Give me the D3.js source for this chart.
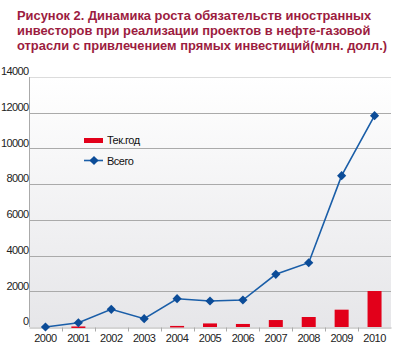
<!DOCTYPE html>
<html><head><meta charset="utf-8">
<script src="https://cdn.jsdelivr.net/npm/d3@7"></script>
<style>body{margin:0;background:#fff}svg{display:block}</style>
</head><body>
<script>
const years = ["2000","2001","2002","2003","2004","2005","2006","2007","2008","2009","2010"];
const currentYear = [0, 30, 0, 0, 60, 200, 170, 390, 560, 970, 2015];
const total = [0, 240, 990, 465, 1585, 1455, 1510, 2950, 3600, 8475, 11835];
const yTicks = [0, 2000, 4000, 6000, 8000, 10000, 12000, 14000];
const titleLines = ["Рисунок 2. Динамика роста обязательств иностранных",
  "инвесторов при реализации проектов в нефте-газовой",
  "отрасли с привлечением прямых инвестиций(млн. долл.)"];
const legendLabels = ["Тек.год", "Всего"];

const W = 400, H = 350;
const svg = d3.select("body").append("svg").attr("width", W).attr("height", H);
const defs = svg.append("defs");
const grad = defs.append("linearGradient").attr("id","bg").attr("x1",0).attr("y1",0).attr("x2",0).attr("y2",1);
grad.append("stop").attr("offset","0%").attr("stop-color","#ffffff");
grad.append("stop").attr("offset","100%").attr("stop-color","#e6e6e9");

const x = d3.scaleBand().domain(years).range([29, 391]).padding(0);
const y = d3.scaleLinear().domain([0, 14000]).range([327, 77]);

// title
svg.append("g").selectAll("text").data(titleLines).join("text")
  .attr("x", 17).attr("y", (d,i) => 20 + i*15)
  .attr("font-family", "Liberation Sans, Arial, sans-serif")
  .attr("font-weight", "bold").attr("font-size", 12.9)
  .attr("fill", "#9c1c40").text(d => d);

// plot background
svg.append("rect").attr("x", 29).attr("y", y(14000)).attr("width", 362).attr("height", y(0)-y(14000)).attr("fill","url(#bg)");

// gridlines
svg.append("g").selectAll("line").data(yTicks.filter(t => t > 0)).join("line")
  .attr("x1", 29).attr("x2", 391).attr("y1", d => Math.round(y(d))+0.5).attr("y2", d => Math.round(y(d))+0.5)
  .attr("stroke", d => d === 14000 ? "#dcdcdc" : "#aaaaaa").attr("stroke-width", 1);

// y axis
const yAxis = d3.axisLeft(y).tickValues(yTicks).tickSize(0).tickPadding(1).tickFormat(d3.format("d"));
const gy = svg.append("g").attr("transform","translate(29.5,0)").call(yAxis);
gy.select(".domain").attr("stroke","#aaaaaa").attr("d", `M0,${y(14000)}V${y(0)}`);
gy.selectAll("text").attr("font-family","Liberation Sans, Arial, sans-serif").attr("font-size",11)
  .attr("fill","#222").attr("letter-spacing","-0.6").attr("dy","-0.2em").attr("x",-1);

// x axis
const xAxis = d3.axisBottom(x).tickSize(0).tickPadding(7);
const gx = svg.append("g").attr("transform",`translate(0,${Math.round(y(0))+0.5})`).call(xAxis);
gx.select(".domain").attr("stroke","#aaaaaa");
gx.selectAll("text").attr("font-family","Liberation Sans, Arial, sans-serif").attr("font-size",11)
  .attr("fill","#222").attr("letter-spacing","-0.5");
gx.append("g").selectAll("line").data(years.slice(1)).join("line")
  .attr("x1", d => Math.round(x(d))+0.5).attr("x2", d => Math.round(x(d))+0.5)
  .attr("y1", 0).attr("y2", 4).attr("stroke","#aaaaaa");

// bars
const bw = 14;
svg.append("g").selectAll("rect").data(years.map((d,i)=>({yr:d, v:currentYear[i]})).filter(d=>d.v>0)).join("rect")
  .attr("x", d => x(d.yr) + x.bandwidth()/2 - bw/2)
  .attr("y", d => y(d.v)).attr("width", bw)
  .attr("height", d => Math.max(1.5, y(0) - y(d.v)))
  .attr("fill", "#e2001a");

// line
const pts = years.map((d,i)=>({yr:d, v:total[i]}));
const line = d3.line().x(d => x(d.yr)+x.bandwidth()/2).y(d => y(d.v));
svg.append("path").datum(pts).attr("d", line).attr("fill","none").attr("stroke","#1a5ea8").attr("stroke-width",1.6);
const diamond = d3.symbol().type(d3.symbolSquare).size(42);
svg.append("g").selectAll("path").data(pts).join("path")
  .attr("d", diamond)
  .attr("transform", d => `translate(${x(d.yr)+x.bandwidth()/2},${y(d.v)}) rotate(45)`)
  .attr("fill","#0c4c98");

// legend
const lg = svg.append("g");
lg.append("rect").attr("x",84).attr("y",138).attr("width",19).attr("height",5).attr("fill","#e2001a");
lg.append("line").attr("x1",84).attr("x2",103).attr("y1",160.5).attr("y2",160.5).attr("stroke","#1a5ea8").attr("stroke-width",1.6);
lg.append("path").attr("d",diamond).attr("transform","translate(94,160.5) rotate(45)").attr("fill","#0c4c98");
lg.selectAll("text").data(legendLabels).join("text")
  .attr("x",107).attr("y",(d,i)=> 144 + i*21)
  .attr("font-family","Liberation Sans, Arial, sans-serif").attr("font-size",11)
  .attr("fill","#111").attr("letter-spacing","-0.5").text(d=>d);
</script>
</body></html>
